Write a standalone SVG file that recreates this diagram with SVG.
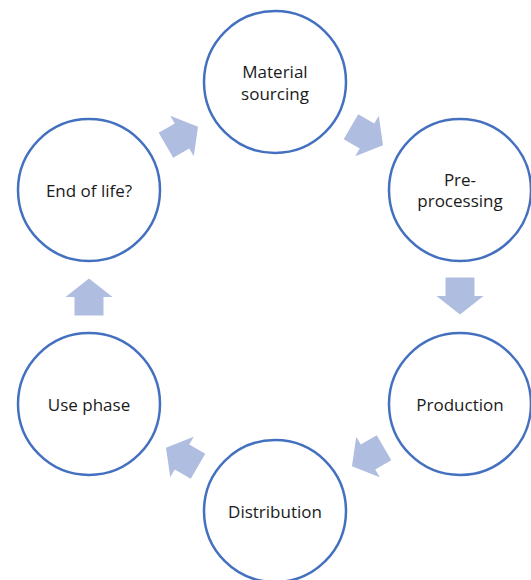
<svg xmlns="http://www.w3.org/2000/svg" width="531" height="580" viewBox="0 0 531 580">
  <defs>
    <style>
      .node circle { fill: #FFFFFF; stroke: #4470C0; stroke-width: 2.5; }
      .node text { font-family: "Open Sans", "Noto Sans", "DejaVu Sans", sans-serif; font-size: 17px; fill: #1A1A1A; text-anchor: middle; }
      .arrow { fill: #AFBDE0; stroke: none; }
    </style>
    <path id="arr" d="M-18.5,-14.5 L0,-14.5 L0,-23.5 L18.5,0 L0,23.5 L0,14.5 L-18.5,14.5 Z"/>
  </defs>
  <rect width="531" height="580" fill="#FFFFFF"/>
  <g id="connectors">
    <use href="#arr" class="arrow" transform="translate(367,136) rotate(30)"/>
    <use href="#arr" class="arrow" transform="translate(460,296) rotate(90)"/>
    <use href="#arr" class="arrow" transform="translate(368,457) rotate(150)"/>
    <use href="#arr" class="arrow" transform="translate(182,457) rotate(210)"/>
    <use href="#arr" class="arrow" transform="translate(89,297) rotate(270)"/>
    <use href="#arr" class="arrow" transform="translate(182,136) rotate(330)"/>
  </g>
  <g id="material-sourcing" class="node">
    <circle cx="275" cy="82" r="71"/>
    <text x="275" y="78">Material</text>
    <text x="275" y="99.5">sourcing</text>
  </g>
  <g id="pre-processing" class="node">
    <circle cx="460" cy="190" r="71"/>
    <text x="460" y="185.5">Pre-</text>
    <text x="460" y="207">processing</text>
  </g>
  <g id="production" class="node">
    <circle cx="460" cy="404" r="71"/>
    <text x="460" y="410.7">Production</text>
  </g>
  <g id="distribution" class="node">
    <circle cx="275" cy="511" r="71"/>
    <text x="275" y="517.7">Distribution</text>
  </g>
  <g id="use-phase" class="node">
    <circle cx="89" cy="404" r="71"/>
    <text x="89" y="410.7">Use phase</text>
  </g>
  <g id="end-of-life" class="node">
    <circle cx="89" cy="190" r="71"/>
    <text x="89" y="196.7">End of life?</text>
  </g>
</svg>
